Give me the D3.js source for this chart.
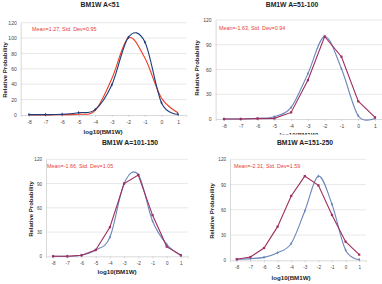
<!DOCTYPE html>
<html>
<head>
<meta charset="utf-8">
<script src="https://cdn.jsdelivr.net/npm/d3@7"></script>
<style>
  body { margin: 0; background: #fff; }
  svg { display: block; font-family: "Liberation Sans", Arial, sans-serif; }
</style>
</head>
<body>
<svg width="382" height="284"></svg>
<script>
// categories and values
const xCats = [-8, -7, -6, -5, -4, -3, -2, -1, 0, 1];
const titles = ['BM1W A<51', 'BM1W A=51-100', 'BM1W A=101-150', 'BM1W A=151-250'];
const statTexts = ['Mean=1.27, Std. Dev=0.95', 'Mean=-1.63, Std. Dev=0.94',
                   'Mean=-1.66, Std. Dev=1.05', 'Mean=-2.31, Std. Dev=1.59'];
const yTicksA = [0, 20, 40, 60, 80, 100, 120];
const yTicksB = [0, 30, 60, 90, 120];

const p1Blue   = [0.5, 0.5, 1, 3, 7, 39, 101, 95, 16, 1];
const p1Red    = [0, 0, 0.5, 1, 6, 47, 100, 74, 22, 3];
const p2Blue   = [0, 0, 1, 2.8, 14, 55, 100, 61, 4, 1];
const p2Maroon = [0, 0, 0.5, 0.8, 8, 47, 100, 75.5, 21.5, 2];
const p3Blue   = [0, 0, 1.2, 7.8, 23.5, 90, 101, 43.7, 14.8, 1.2];
const p3Maroon = [0, 0, 1.2, 7.8, 36, 90, 100.6, 51, 12, 1.2];
const p4Blue   = [1.2, 2, 3.5, 9, 20, 58.5, 100, 66.5, 12.2, 1];
const p4Maroon = [1.2, 3.9, 14.6, 40, 76.4, 100, 89, 53.8, 22.1, 6.7];

const svg = d3.select('svg');
const smooth = d3.curveCardinal.tension(0);

const panels = [
  { l: 20.7, r: 186.3, t: 22.7, b: 115, ticks: yTicksA, title: [100, 7], xl: [103, 134], yl: [5, 70], st: [32, 31], fs: 5,
    series: [
      { v: p1Red, c: '#ee3b26', curve: smooth, mark: null },
      { v: p1Blue, c: '#1d3c78', curve: smooth, mark: 'diamond' }
    ] },
  { l: 215.6, r: 383.4, t: 20, b: 119, ticks: yTicksB, title: [292, 7], xl: [299, 137], yl: [197, 68], st: [219, 30], fs: 5,
    series: [
      { v: p2Blue, c: '#6b86bb', curve: smooth, mark: 'diamond' },
      { v: p2Maroon, c: '#9e2f60', curve: d3.curveLinear, mark: 'square' }
    ] },
  { l: 46, r: 188, t: 159.3, b: 256.3, ticks: yTicksB, title: [130, 145], xl: [117, 274], yl: [31, 209], st: [47, 168], fs: 4.6,
    series: [
      { v: p3Blue, c: '#6b86bb', curve: smooth, mark: 'diamond' },
      { v: p3Maroon, c: '#9e2f60', curve: d3.curveLinear, mark: 'square' }
    ] },
  { l: 230, r: 366, t: 159.3, b: 260.3, ticks: yTicksB, title: [305, 145], xl: [291, 280], yl: [212, 211], st: [234, 168], fs: 4.6,
    series: [
      { v: p4Blue, c: '#6b86bb', curve: smooth, mark: 'diamond' },
      { v: p4Maroon, c: '#9e2f60', curve: d3.curveLinear, mark: 'square' }
    ] }
];

function drawPanel(p, i) {
  const g = svg.append('g');
  if (i == 3) {
    // bottom-right chart sits over the label above it
    g.append('rect').attr('x', 191).attr('y', 134.5).attr('width', 191).attr('height', 150).attr('fill', '#fff');
  }
  const x = d3.scalePoint().domain(xCats).range([p.l, p.r]).padding(0.5);
  const y = d3.scaleLinear().domain([0, 120]).range([p.b, p.t]);

  g.selectAll('line.grid').data(p.ticks.slice(1)).enter().append('line')
    .attr('x1', p.l).attr('x2', p.r)
    .attr('y1', d => y(d)).attr('y2', d => y(d))
    .attr('stroke', '#d9d9d9').attr('stroke-width', 0.6);

  const yAxis = g.append('g').attr('transform', 'translate(' + p.l + ',0)')
    .call(d3.axisLeft(y).tickValues(p.ticks).tickSize(0).tickPadding(4));
  const xAxis = g.append('g').attr('transform', 'translate(0,' + p.b + ')')
    .call(d3.axisBottom(x).tickSize(2).tickPadding(3));
  [yAxis, xAxis].forEach(a => {
    a.select('.domain').attr('stroke', '#bfbfbf').attr('stroke-width', 0.6);
    a.selectAll('.tick line').attr('stroke', '#bfbfbf').attr('stroke-width', 0.6);
    a.selectAll('text').attr('font-size', p.fs).attr('fill', '#444').attr('font-family', null);
  });

  p.series.forEach(s => {
    const line = d3.line().x((d, j) => x(xCats[j])).y(d => y(d)).curve(s.curve);
    g.append('path').datum(s.v).attr('d', line)
      .attr('fill', 'none').attr('stroke', s.c).attr('stroke-width', 1.1);
    if (s.mark) {
      const sym = s.mark == 'square' ? d3.symbolSquare : d3.symbolDiamond;
      const size = s.mark == 'square' ? 5 : 3.5;
      g.selectAll(null).data(s.v).enter().append('path')
        .attr('transform', (d, j) => 'translate(' + x(xCats[j]) + ',' + y(d) + ')')
        .attr('d', d3.symbol().type(sym).size(size))
        .attr('fill', s.c);
    }
  });

  g.append('text').attr('x', p.title[0]).attr('y', p.title[1])
    .attr('text-anchor', 'middle').attr('font-size', 6.8).attr('font-weight', 'bold')
    .attr('fill', '#222').text(titles[i]);
  g.append('text').attr('x', p.xl[0]).attr('y', p.xl[1])
    .attr('text-anchor', 'middle').attr('font-size', 6.2).attr('font-weight', 'bold')
    .attr('fill', '#222').text('log10(BM1W)');
  g.append('text')
    .attr('transform', 'translate(' + p.yl[0] + ',' + p.yl[1] + ') rotate(-90)')
    .attr('text-anchor', 'middle').attr('dy', '0.35em').attr('font-size', 6)
    .attr('font-weight', 'bold').attr('fill', '#222').text('Relative Probability');
  g.append('text').attr('x', p.st[0]).attr('y', p.st[1])
    .attr('font-size', 5.4).attr('fill', '#e8403a').text(statTexts[i]);
}

panels.forEach(drawPanel);
</script>
</body>
</html>
